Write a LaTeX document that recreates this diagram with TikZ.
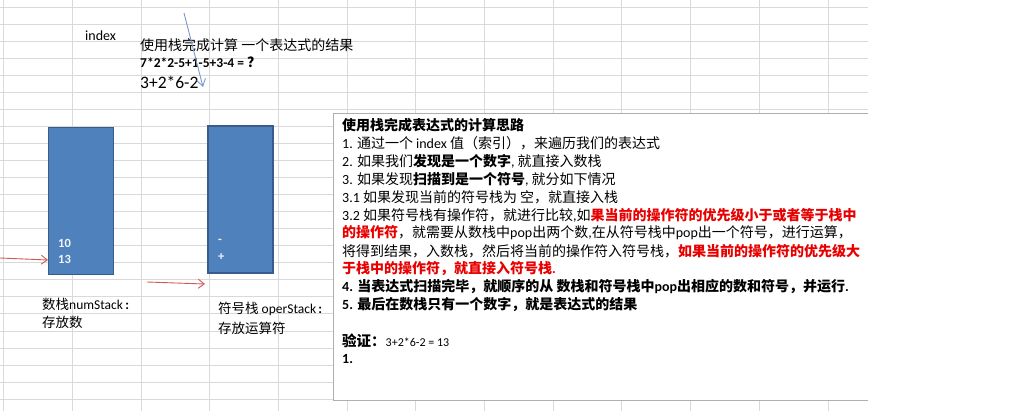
\documentclass[tikz,border=0pt]{standalone}
\usepackage{fontspec}
\setmainfont{Noto Sans CJK SC}
\newfontfamily\lat{Carlito}
\usetikzlibrary{arrows.meta,positioning}
\definecolor{cellgray}{RGB}{217,217,217}
\definecolor{stackblue}{RGB}{79,129,189}
\definecolor{stackedge}{RGB}{56,93,138}
\definecolor{ptrblue}{RGB}{122,152,204}
\definecolor{pushred}{RGB}{206,90,90}
\definecolor{hotred}{RGB}{232,0,0}
\definecolor{boxgray}{RGB}{175,175,175}
\newcommand{\hot}[1]{\textcolor{hotred}{\bfseries #1}}
\tikzset{
  stack/.style={rectangle, draw=stackedge, line width=1.8pt, fill=stackblue,
                minimum width=65pt, minimum height=147pt, inner sep=0pt},
  cellval/.style={anchor=west, inner sep=0pt, text=white!92!stackblue,
                  font=\lat\bfseries\fontsize{12.5}{13}\selectfont},
  lbl/.style={anchor=west, inner sep=0pt, font=\fontsize{13.5}{14}\selectfont},
  note/.style={anchor=west, inner sep=0pt, font=\fontsize{14}{14}\selectfont},
  pushline/.style={-{Straight Barb[length=6pt,width=9pt]}, line width=0.9pt, pushred},
  ptrline/.style={-{Straight Barb[length=7pt,width=9pt]}, line width=0.9pt, ptrblue},
}
\begin{document}
\begin{tikzpicture}[x=1pt,y=-1pt]
\useasboundingbox (0,0) rectangle (1014,411);
\fill[white] (0,0) rectangle (1014,411);
\foreach \r in {0,...,23}
  \draw[cellgray, line width=0.8pt] (0,7+17.05*\r) -- (868,7+17.05*\r);
\foreach \c in {0,...,12}
  \draw[cellgray, line width=0.8pt] (3.5+68.7*\c,0) -- (3.5+68.7*\c,411);
\draw[boxgray, fill=white, line width=0.8pt] (868,113) -- (333,113) -- (333,400) -- (868,400);

\node[anchor=west, inner sep=0pt, font=\lat\fontsize{14}{14}\selectfont] (idx) at (85,36) {index};
\node[lbl, font=\fontsize{14}{14}\selectfont] (task) at (140,45) {使用栈完成计算 一个表达式的结果};
\node[anchor=west, inner sep=0pt] (expr) at (140,62)
  {{\lat\bfseries\fontsize{13.5}{14}\selectfont 7*2*2-5+1-5+3-4 = }{\bfseries\fontsize{14}{14}\selectfont ？}};
\node[anchor=west, inner sep=0pt, font=\lat\fontsize{17.5}{18}\selectfont] (demo) at (140,82) {3+2*6-2};
\coordinate (ptrtop) at (184,13);
\coordinate (ptrtip) at (203,87);
\draw[ptrline] (ptrtop) -- (ptrtip);

\node[stack] (numstk) at (81,201) {};
\node[stack] (operstk) at (240.5,199.5) {};
\node[cellval] (n10) at (58,243) {10};
\node[cellval] (n13) at (58,259) {13};
\node[cellval] (opminus) at (218,241) {-};
\node[cellval] (opplus) at (218,257) {+};
\coordinate (numin) at (0,258);
\coordinate (numat) at (48,260);
\coordinate (opin) at (147,282);
\coordinate (opat) at (205,284);
\draw[pushline] (numin) -- (numat);
\draw[pushline] (opin) -- (opat);

\node[lbl] (numname) at (42,304) {数栈{\lat\fontsize{13.5}{14}\selectfont numStack\,\textbf{:}}};
\node[lbl] (numuse) at (42,322) {存放数};
\node[lbl] (opname) at (218,309) {符号栈 {\lat\fontsize{13.5}{14}\selectfont operStack\,\textbf{:}}};
\node[lbl] (opuse) at (218,328) {存放运算符};

\node[note, font=\bfseries\fontsize{14}{14}\selectfont] (hdr) at (342,125) {使用栈完成表达式的计算思路};
\node[note] (ln1) at (342,143) {{\lat 1.} 通过一个 {\lat index} 值（索引），来遍历我们的表达式};
\node[note] (ln2) at (342,161) {{\lat 2.} 如果我们{\bfseries 发现是一个数字}{\lat ,} 就直接入数栈};
\node[note] (ln3) at (342,179) {{\lat 3.} 如果发现{\bfseries 扫描到是一个符号}{\lat ,} 就分如下情况};
\node[note] (ln4) at (342,197) {{\lat 3.1} 如果发现当前的符号栈为 空，就直接入栈};
\node[note] (ln5) at (342,215) {{\lat 3.2} 如果符号栈有操作符，就进行比较{\lat ,}如\hot{果当前的操作符的优先级小于或者等于栈中}};
\node[note] (ln6) at (342,233) {\hot{的操作符}，就需要从数栈中{\lat pop}出两个数{\lat ,}在从符号栈中{\lat pop}出一个符号，进行运算，};
\node[note] (ln7) at (342,251) {将得到结果，入数栈，然后将当前的操作符入符号栈，\hot{如果当前的操作符的优先级大}};
\node[note] (ln8) at (342,269) {\hot{于栈中的操作符，就直接入符号栈{\lat .}}};
\node[note, font=\bfseries\fontsize{14}{14}\selectfont] (ln9) at (342,287) {{\lat 4.} 当表达式扫描完毕，就顺序的从 数栈和符号栈中{\lat pop}出相应的数和符号，并运行{\lat .}};
\node[note, font=\bfseries\fontsize{14}{14}\selectfont] (ln10) at (342,305) {{\lat 5.} 最后在数栈只有一个数字，就是表达式的结果};
\node[note] (check) at (342,341) {{\bfseries\fontsize{14.5}{15}\selectfont 验证：}{\lat\fontsize{12}{12}\selectfont 3+2*6-2 = 13}};
\node[note] (ln12) at (342,359) {{\lat\bfseries 1.}};
\end{tikzpicture}
\end{document}
